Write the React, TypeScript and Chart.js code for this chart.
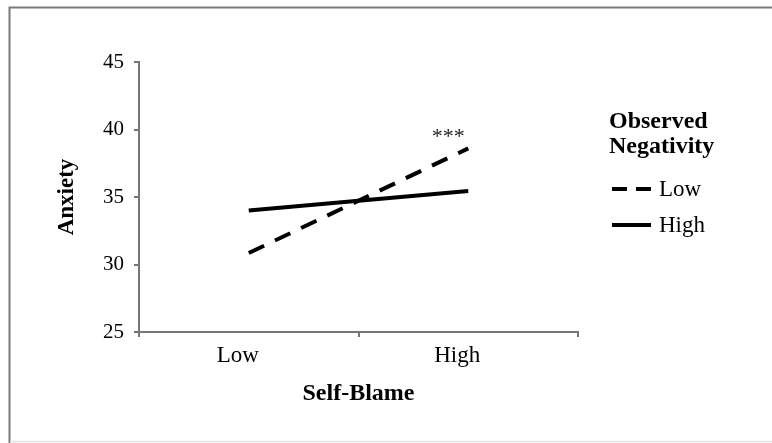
import React, { useEffect, useRef } from "react";
import { Chart, registerables } from "chart.js";

Chart.register(...registerables);

const categories = ["Low", "High"];
const lowNegativity = [30.85, 38.6];
const highNegativity = [34.0, 35.45];
const seriesLabels = ["Low", "High"];
const legendTitle = ["Observed", "Negativity"];
const yTicks = [25, 30, 35, 40, 45];
const sigText = "***";
const sigCategory = "High";
const sigValue = 39.0;

const SERIF = "'Liberation Serif', 'Times New Roman', serif";
const AXIS_GRAY = "#767676";

const framePlugin = {
  id: "frame",
  beforeDraw(chart: any) {
    const { ctx, width, height } = chart;
    ctx.save();
    ctx.fillStyle = "#ffffff";
    ctx.fillRect(0, 0, width, height);
    ctx.strokeStyle = "#7a7a7a";
    ctx.lineWidth = 2;
    ctx.beginPath();
    ctx.moveTo(9.5, height);
    ctx.lineTo(9.5, 7.5);
    ctx.lineTo(width, 7.5);
    ctx.stroke();
    ctx.strokeStyle = "#e2e2e2";
    ctx.lineWidth = 1.5;
    ctx.beginPath();
    ctx.moveTo(10, height - 1.5);
    ctx.lineTo(width, height - 1.5);
    ctx.stroke();
    ctx.restore();
  },
};

const extrasPlugin = {
  id: "extras",
  afterDraw(chart: any) {
    const { ctx, chartArea } = chart;
    const xs = chart.scales.x;
    const ys = chart.scales.y;
    ctx.save();
    // significance marker
    ctx.fillStyle = "#222";
    ctx.font = `22px ${SERIF}`;
    ctx.textAlign = "center";
    ctx.textBaseline = "alphabetic";
    ctx.fillText(sigText, xs.getPixelForValue(categories.indexOf(sigCategory)) - 20, ys.getPixelForValue(sigValue));

    // legend
    const lx = chartArea.right + 31;
    ctx.textAlign = "left";
    ctx.fillStyle = "#000";
    ctx.font = `bold 24px ${SERIF}`;
    ctx.fillText(legendTitle[0], lx, 128);
    ctx.fillText(legendTitle[1], lx, 153);
    const rows = [189, 225];
    chart.data.datasets.forEach((ds: any, i: number) => {
      const y = rows[i];
      ctx.strokeStyle = "#000";
      ctx.lineWidth = 4;
      ctx.lineCap = "butt";
      ctx.setLineDash(ds.borderDash && ds.borderDash.length ? [15, 9] : []);
      ctx.beginPath();
      ctx.moveTo(lx + 3, y);
      ctx.lineTo(lx + 42, y);
      ctx.stroke();
      ctx.setLineDash([]);
      ctx.font = `23px ${SERIF}`;
      ctx.textBaseline = "middle";
      ctx.fillText(ds.label, lx + 50, y + 1);
    });
    ctx.restore();
  },
};

export default function App() {
  const canvasRef = useRef<HTMLCanvasElement | null>(null);

  useEffect(() => {
    document.body.style.margin = "0";
    const canvas = canvasRef.current;
    if (!canvas) return;
    const chart = new Chart(canvas, {
      type: "line",
      data: {
        labels: categories,
        datasets: [
          {
            label: seriesLabels[0],
            data: lowNegativity,
            borderColor: "#000",
            borderWidth: 4,
            borderDash: [17, 12],
            pointRadius: 0,
            fill: false,
          },
          {
            label: seriesLabels[1],
            data: highNegativity,
            borderColor: "#000",
            borderWidth: 4,
            pointRadius: 0,
            fill: false,
          },
        ],
      },
      options: {
        animation: false,
        responsive: true,
        maintainAspectRatio: false,
        layout: { padding: { left: 0, top: 62, right: 194, bottom: 0 } },
        plugins: {
          legend: { display: false },
          tooltip: { enabled: false },
        },
        scales: {
          x: {
            type: "category",
            offset: true,
            afterFit(scale: any) {
              scale.height = 111;
            },
            grid: {
              offset: true,
              drawOnChartArea: false,
              drawTicks: true,
              tickLength: 5,
              color: AXIS_GRAY,
              lineWidth: 2,
            },
            border: { display: true, color: AXIS_GRAY, width: 2 },
            ticks: {
              color: "#000",
              font: { family: SERIF, size: 23 },
              padding: 5,
              labelOffset: -11,
              maxRotation: 0,
            },
            title: {
              display: true,
              text: "Self-Blame",
              color: "#000",
              font: { family: SERIF, size: 24, weight: "bold" },
              padding: { top: 0, bottom: 35 },
            },
          },
          y: {
            min: yTicks[0],
            max: yTicks[yTicks.length - 1],
            afterFit(scale: any) {
              scale.width = 139;
            },
            afterBuildTicks(scale: any) {
              scale.ticks = yTicks.map((v) => ({ value: v }));
            },
            grid: {
              drawOnChartArea: false,
              drawTicks: true,
              tickLength: 5,
              color: AXIS_GRAY,
              lineWidth: 2,
            },
            border: { display: true, color: AXIS_GRAY, width: 2 },
            ticks: {
              color: "#000",
              font: { family: SERIF, size: 21 },
              padding: 10,
            },
            title: {
              display: true,
              text: "Anxiety",
              color: "#000",
              font: { family: SERIF, size: 23, weight: "bold" },
              padding: { top: 53, bottom: 0 },
            },
          },
        },
      },
      plugins: [framePlugin, extrasPlugin],
    });
    return () => chart.destroy();
  }, []);

  return (
    <div style={{ position: "absolute", left: 0, top: 0, width: 772, height: 443 }}>
      <canvas ref={canvasRef} />
    </div>
  );
}
